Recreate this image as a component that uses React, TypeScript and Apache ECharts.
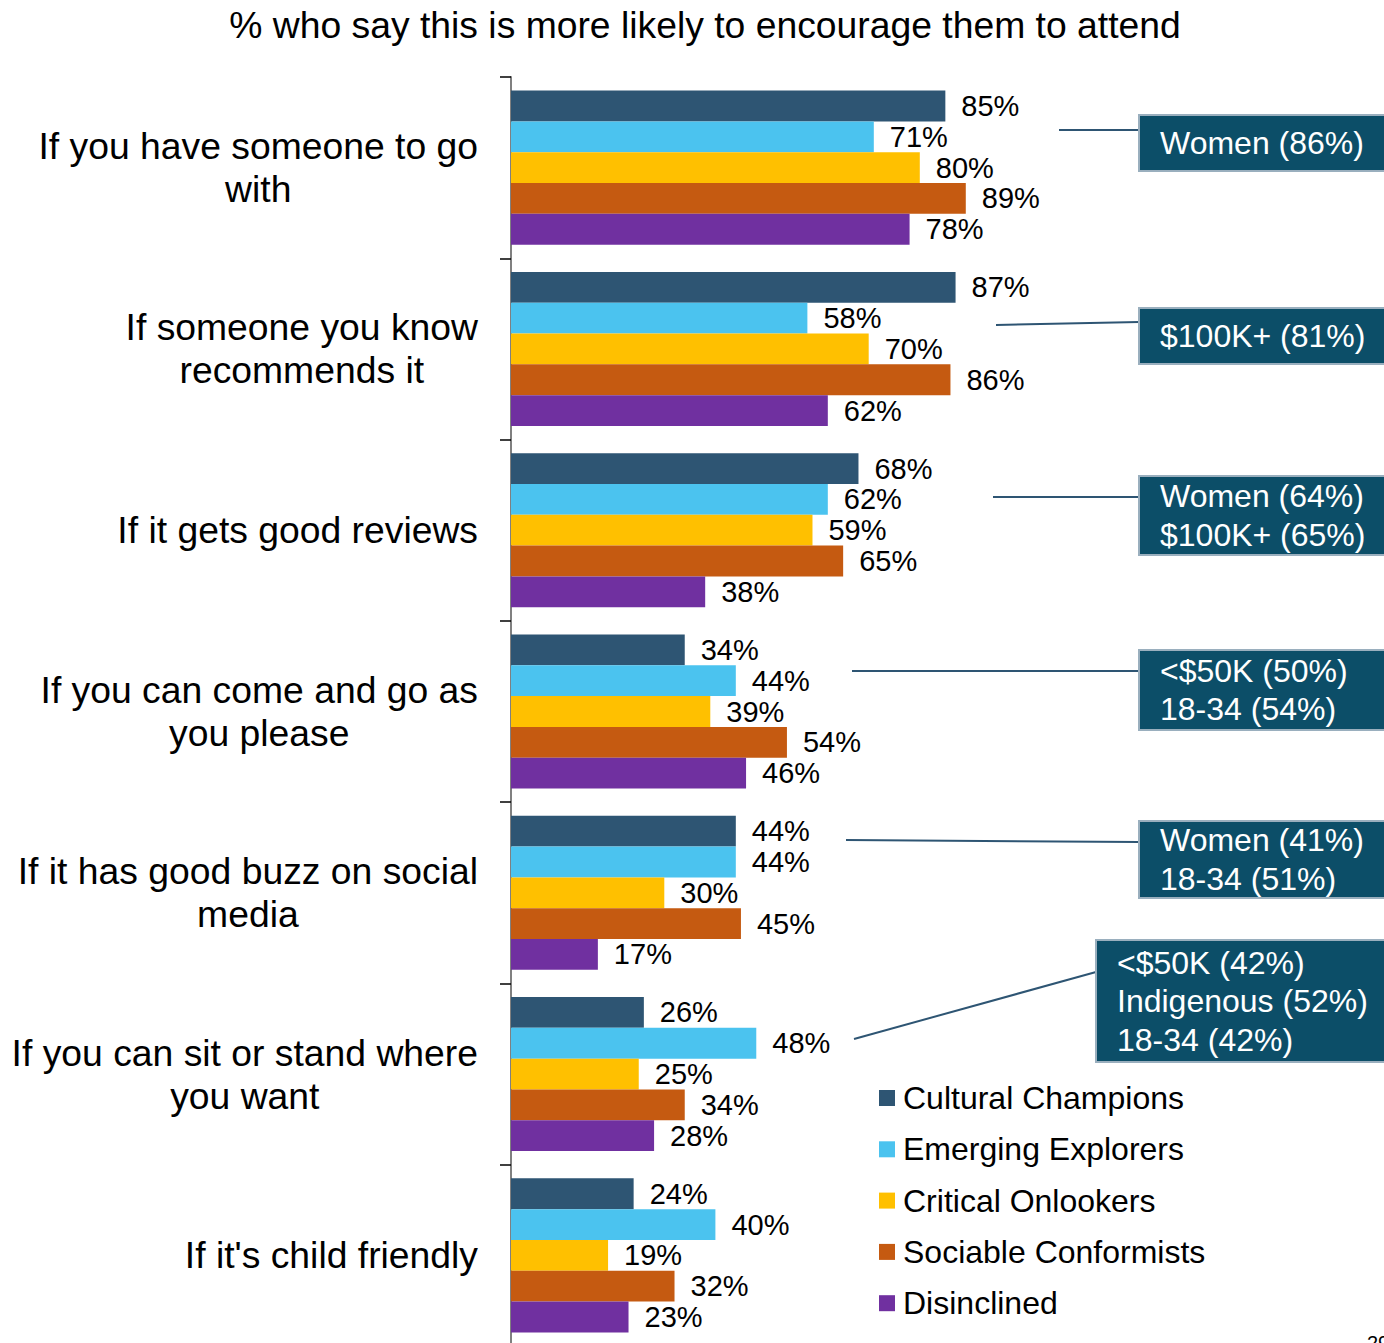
import React, { useEffect, useRef } from "react";
import * as echarts from "echarts";

const FONT = "'Liberation Sans', Arial, Helvetica, sans-serif";

const titleText = "% who say this is more likely to encourage them to attend";

const categories = [
  "If you have someone to go\nwith",
  "If someone you know\nrecommends it",
  "If it gets good reviews",
  "If you can come and go as\nyou please",
  "If it has good buzz on social\nmedia",
  "If you can sit or stand where\nyou want",
  "If it's child friendly",
];

const seriesNames = [
  "Cultural Champions",
  "Emerging Explorers",
  "Critical Onlookers",
  "Sociable Conformists",
  "Disinclined",
];

const seriesColors = ["#2E5573", "#4BC3EF", "#FFC000", "#C55A11", "#7030A0"];

const culturalChampions = [85, 87, 68, 34, 44, 26, 24];
const emergingExplorers = [71, 58, 62, 44, 44, 48, 40];
const criticalOnlookers = [80, 70, 59, 39, 30, 25, 19];
const sociableConformists = [89, 86, 65, 54, 45, 34, 32];
const disinclined = [78, 62, 38, 46, 17, 28, 23];

const seriesValues = [
  culturalChampions,
  emergingExplorers,
  criticalOnlookers,
  sociableConformists,
  disinclined,
];

// callout boxes: lines of text
const calloutTexts = [
  ["Women (86%)"],
  ["$100K+ (81%)"],
  ["Women (64%)", "$100K+ (65%)"],
  ["<$50K (50%)", "18-34 (54%)"],
  ["Women (41%)", "18-34 (51%)"],
  ["<$50K (42%)", "Indigenous (52%)", "18-34 (42%)"],
];

// layout of callouts (box x, y, h; connector line x1,y1 -> x2,y2)
const calloutLayout = [
  { x: 1139, y: 115, h: 56, lx1: 1059, ly1: 130, lx2: 1139, ly2: 130 },
  { x: 1139, y: 308, h: 56, lx1: 996, ly1: 325, lx2: 1139, ly2: 322 },
  { x: 1139, y: 476, h: 79, lx1: 993, ly1: 497, lx2: 1139, ly2: 497 },
  { x: 1139, y: 650, h: 80, lx1: 852, ly1: 671, lx2: 1139, ly2: 671 },
  { x: 1139, y: 821, h: 77, lx1: 846, ly1: 840, lx2: 1139, ly2: 842 },
  { x: 1096, y: 940, h: 122, lx1: 854, ly1: 1039, lx2: 1096, ly2: 972 },
];

export default function App() {
  const ref = useRef<HTMLDivElement>(null);

  useEffect(() => {
    if (!ref.current) return;
    const chart = echarts.init(ref.current, null, { renderer: "svg" });

    const graphics: any[] = [
      {
        type: "text",
        x: 705,
        y: 25,
        style: {
          text: titleText,
          font: `37.3px ${FONT}`,
          fill: "#000",
          textAlign: "center",
          textVerticalAlign: "middle",
        },
      },
      {
        type: "text",
        x: 1367,
        y: 1333,
        style: {
          text: "29",
          font: `20px ${FONT}`,
          fill: "#000",
          textAlign: "left",
          textVerticalAlign: "top",
        },
      },
    ];

    calloutTexts.forEach((lines, i) => {
      const L = calloutLayout[i];
      graphics.push({
        type: "line",
        shape: { x1: L.lx1, y1: L.ly1, x2: L.lx2, y2: L.ly2 },
        style: { stroke: "#2E5573", lineWidth: 2 },
      });
      graphics.push({
        type: "rect",
        shape: { x: L.x, y: L.y, width: 1400 - L.x, height: L.h },
        style: { fill: "#0C4E68", stroke: "#9AAFBE", lineWidth: 2 },
      });
      const lh = 38.5;
      const cy = L.y + L.h / 2;
      lines.forEach((t, j) => {
        graphics.push({
          type: "text",
          x: L.x + 21,
          y: cy + (j - (lines.length - 1) / 2) * lh,
          style: {
            text: t,
            font: `32px ${FONT}`,
            fill: "#fff",
            textAlign: "left",
            textVerticalAlign: "middle",
          },
        });
      });
    });

    const option: any = {
      animation: false,
      backgroundColor: "#fff",
      textStyle: { fontFamily: FONT },
      grid: {
        left: 511,
        top: 77,
        width: 511,
        height: 1269,
        containLabel: false,
        outerBoundsMode: "none",
      },
      legend: {
        orient: "vertical",
        left: 879,
        top: 1082,
        padding: 0,
        itemWidth: 16,
        itemHeight: 16,
        itemGap: 19.3,
        icon: "rect",
        data: seriesNames,
        textStyle: {
          fontFamily: FONT,
          fontSize: 32,
          lineHeight: 32,
          color: "#000",
          padding: [0, 0, 0, 3],
        },
      },
      xAxis: {
        type: "value",
        min: 0,
        max: 100,
        show: false,
      },
      yAxis: {
        type: "category",
        inverse: true,
        data: categories,
        axisLine: { show: true, lineStyle: { color: "#808080", width: 2 } },
        axisTick: {
          show: true,
          length: 11,
          interval: 0,
          lineStyle: { color: "#000", width: 1.5 },
        },
        axisLabel: {
          margin: 33,
          align: "right",
          interval: 0,
          formatter: (v: string) =>
            v
              .split("\n")
              .map((l) => `{c|${l}}`)
              .join("\n"),
          rich: {
            c: {
              align: "center",
              fontFamily: FONT,
              fontSize: 37.3,
              lineHeight: 43,
              color: "#000",
            },
          },
        },
      },
      graphic: graphics,
      series: seriesNames.map((name, i) => ({
        name,
        type: "bar",
        data: seriesValues[i],
        barGap: "0%",
        barCategoryGap: "15%",
        itemStyle: { color: seriesColors[i] },
        label: {
          show: true,
          position: "right",
          distance: 16,
          formatter: "{c}%",
          fontFamily: FONT,
          fontSize: 29,
          color: "#000",
        },
      })),
    };

    chart.setOption(option);
    return () => chart.dispose();
  }, []);

  return (
    <div
      ref={ref}
      style={{ position: "absolute", left: 0, top: 0, width: 1384, height: 1343 }}
    />
  );
}
